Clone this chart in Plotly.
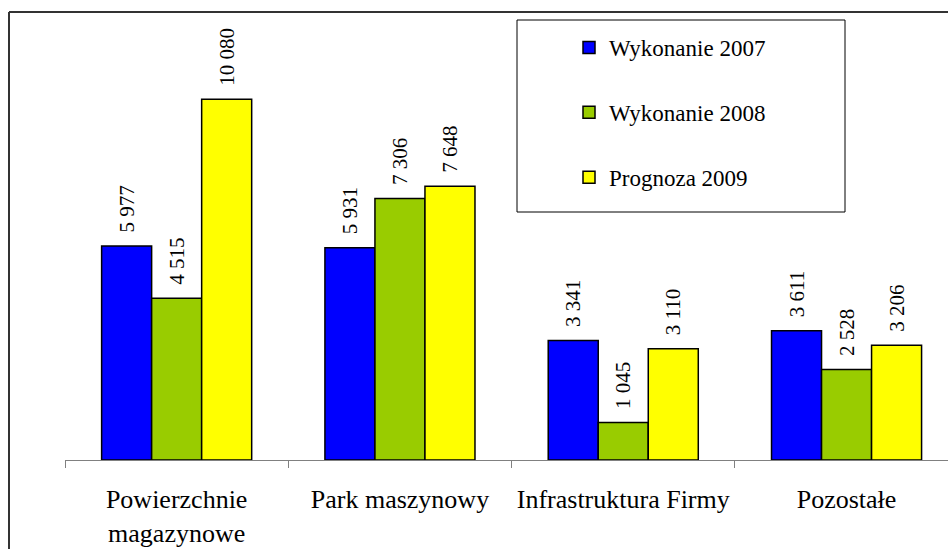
import plotly.graph_objects as go

categories = ["Powierzchnie<br>magazynowe", "Park maszynowy", "Infrastruktura Firmy", "Pozostałe"]
series_names = ["Wykonanie 2007", "Wykonanie 2008", "Prognoza 2009"]
values_2007 = [5977, 5931, 3341, 3611]
values_2008 = [4515, 7306, 1045, 2528]
values_2009 = [10080, 7648, 3110, 3206]
colors = ["#0000FF", "#99CC00", "#FFFF00"]

FONT = "Liberation Serif, Times New Roman, serif"

def fmt(v):
    return "\u00a0\u00a0" + f"{v:,}".replace(",", " ")

fig = go.Figure()
for i, (name, vals) in enumerate(zip(series_names, [values_2007, values_2008, values_2009])):
    fig.add_trace(go.Bar(
        x=categories, y=vals, name=name,
        marker=dict(color=colors[i], line=dict(color="black", width=1.5)),
        text=[fmt(v) for v in vals], textposition="outside", textangle=-90,
        textfont=dict(family=FONT, size=21, color="black"),
        constraintext="none",
        cliponaxis=False, legendgroup=name,
    ))

W, H = 948, 549
ml, mr, mt, mb = 65, 0, 30, 89
pw, ph = W - ml - mr, H - mt - mb

def px_x(x):
    return (x - ml) / pw

def px_y(y):
    return (H - mb - y) / ph

shapes = [
    # outer frame (left and top edges)
    dict(type="line", xref="paper", yref="paper", x0=px_x(9), x1=px_x(9), y0=px_y(12), y1=px_y(560),
         line=dict(color="#333333", width=2)),
    dict(type="line", xref="paper", yref="paper", x0=px_x(9), x1=1.02, y0=px_y(12), y1=px_y(12),
         line=dict(color="#333333", width=2)),
    # legend box
    dict(type="rect", xref="paper", yref="paper", x0=px_x(517), x1=px_x(845), y0=px_y(20), y1=px_y(212),
         line=dict(color="black", width=1), fillcolor="rgba(0,0,0,0)"),
]

fig.update_layout(
    width=W, height=H,
    margin=dict(l=ml, r=mr, t=mt, b=mb),
    paper_bgcolor="white", plot_bgcolor="white",
    barmode="group", bargap=0.328, bargroupgap=0,
    font=dict(family=FONT, color="black"),
    showlegend=True,
    legend=dict(x=px_x(569), y=px_y(26), xanchor="left", yanchor="top",
                bgcolor="rgba(0,0,0,0)", borderwidth=0,
                font=dict(family=FONT, size=23, color="black"),
                tracegroupgap=32),
    shapes=shapes,
    xaxis=dict(range=[-0.5, -0.5 + pw / 223.3], showline=True, linecolor="#808080", linewidth=1,
               ticks="outside", tickson="boundaries", ticklen=7, tickcolor="#808080",
               ticklabelstandoff=16,
               tickfont=dict(family=FONT, size=26, color="black"), showgrid=False, zeroline=False),
    yaxis=dict(range=[0, ph / 0.0358], visible=False, showgrid=False, zeroline=False),
)

fig.write_html("out.html", config={"displayModeBar": False},
               post_script="document.body.style.margin='0';")
